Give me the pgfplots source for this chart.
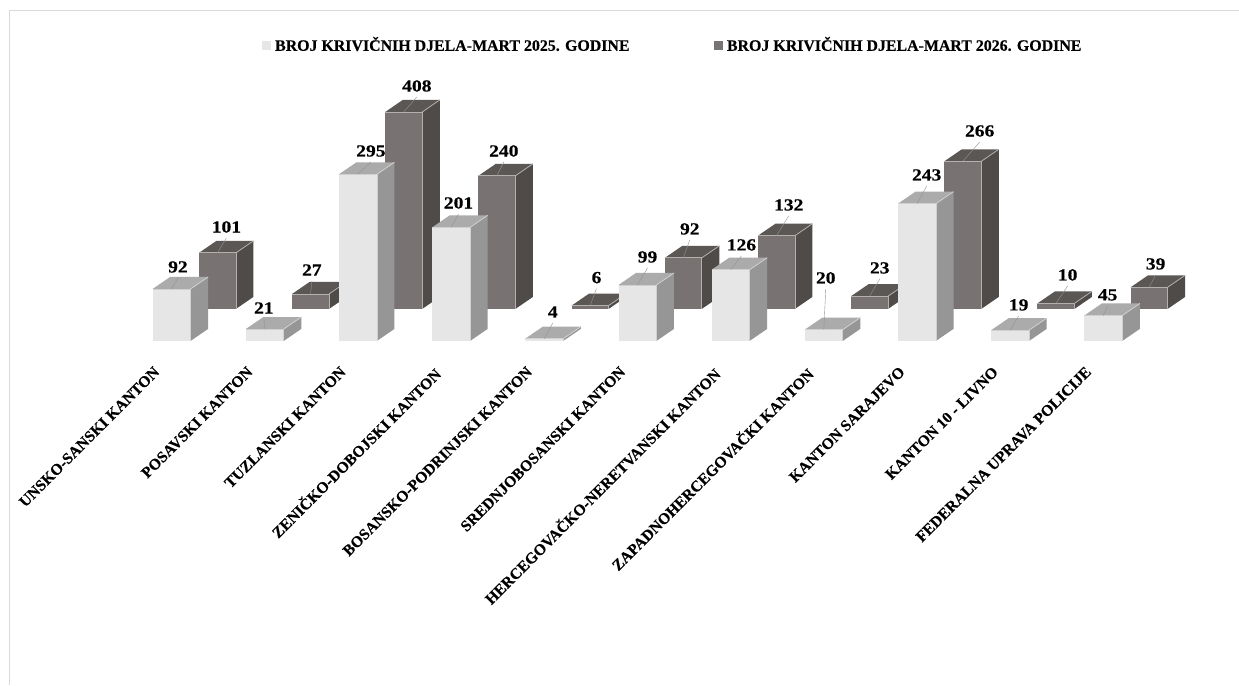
\documentclass[border=0pt]{standalone}
\usepackage{pgfplots}
\pgfplotsset{compat=1.18}
\usepackage{fontspec}
\setmainfont{Liberation Serif}
\newfontfamily\lab[FakeBold=0.35]{Liberation Serif}
\newfontfamily\num[FakeStretch=1.15,FakeBold=0.35]{Liberation Serif}
\definecolor{fF}{HTML}{E6E6E6}\definecolor{fS}{HTML}{969696}\definecolor{fT}{HTML}{ABABAB}\definecolor{fE}{HTML}{D0D0D0}
\definecolor{bF}{HTML}{787372}\definecolor{bS}{HTML}{4F4B49}\definecolor{bT}{HTML}{5B5755}\definecolor{bE}{HTML}{B4B0AE}
\newcommand\threedbar[9]{%
 % #1 left x, #2 value, #3 base, #4 scale, #5 width, #6-#8 face colours, #9 edge colour
 \pgfmathsetmacro\bTop{#3-#4*min(#2,355)}%
 \pgfmathsetmacro\bR{#1+#5}%
 \pgfmathsetmacro\bDX{\bR+17.5}%
 \pgfmathsetmacro\bBY{#3-12}%
 \pgfmathsetmacro\bTY{\bTop-12}%
 \pgfmathsetmacro\bLX{#1+17.5}%
 \edef\tmp{%
 \noexpand\addplot[fill=#7,draw=none,forget plot] coordinates {(\bR,#3)(\bDX,\bBY)(\bDX,\bTY)(\bR,\bTop)} --cycle;
 \noexpand\addplot[fill=#8,draw=none,forget plot] coordinates {(#1,\bTop)(\bR,\bTop)(\bDX,\bTY)(\bLX,\bTY)} --cycle;
 \noexpand\addplot[fill=#6,draw=none,forget plot] coordinates {(#1,#3)(\bR,#3)(\bR,\bTop)(#1,\bTop)} --cycle;
 \noexpand\addplot[draw=#9,line width=0.8pt,forget plot] coordinates {(#1,\bTop)(\bR,\bTop)(\bR,#3)};
 \noexpand\addplot[draw=#9,line width=0.8pt,forget plot] coordinates {(\bR,\bTop)(\bDX,\bTY)};
 }\tmp
}
\newcommand\fbar[2]{\threedbar{#1}{#2}{341}{0.565}{38}{fF}{fS}{fT}{fE}}
\newcommand\bbar[2]{\threedbar{#1}{#2}{309}{0.555}{37}{bF}{bS}{bT}{bE}}
\newcommand\vallabel[5]{% value, label x, label y, bar centre x, leader end y
 \pgfmathsetmacro\lC{#3+11}%
 \edef\tmp{\noexpand\addplot[draw=gray!85,line width=0.4pt,forget plot] coordinates {(#4,#5)(#2,\lC)};}\tmp
 \node[font=\num\bfseries\fontsize{17}{17}\selectfont,inner sep=0pt] at (axis cs:#2,#3) {#1};
}
\newcommand\fval[4]{% value, left x, label x, label y
 \pgfmathsetmacro\cX{#2+19}\pgfmathsetmacro\cY{341-0.565*min(#1,355)}%
 \vallabel{#1}{#3}{#4}{\cX}{\cY}}
\newcommand\bval[4]{%
 \pgfmathsetmacro\cX{#2+18.5}\pgfmathsetmacro\cY{309-0.555*min(#1,355)}%
 \vallabel{#1}{#3}{#4}{\cX}{\cY}}
\newcommand\catlabel[2]{\node[font=\lab\bfseries\fontsize{15.6}{15.6}\selectfont,rotate=45,anchor=north east,inner sep=0pt] at (axis cs:#1,365.5) {#2};}
\begin{document}
\begin{tikzpicture}
\begin{axis}[
  scale only axis,width=1239pt,height=686pt,
  xmin=0,xmax=1239,ymin=0,ymax=686,y dir=reverse,
  axis lines=none,clip=false]
% page background, keeps the full extent
\addplot[fill=white,draw=none,forget plot] coordinates {(0,0)(1239,0)(1239,686)(0,686)} --cycle;
% outer frame
\addplot[draw=gray!30,line width=0.8pt,forget plot] coordinates {(9.5,685)(9.5,10.5)(1239,10.5)};
% 2026 series (rear row)
\bbar{199}{101}\bbar{292.2}{27}\bbar{385.4}{408}\bbar{478.6}{240}\bbar{571.8}{6}\bbar{665}{92}
\bbar{758.2}{132}\bbar{851.4}{23}\bbar{944.6}{266}\bbar{1037.8}{10}\bbar{1131}{39}
% 2025 series (front row)
\fbar{152.7}{92}\fbar{245.9}{21}\fbar{339.1}{295}\fbar{432.3}{201}\fbar{525.5}{4}\fbar{618.7}{99}
\fbar{711.9}{126}\fbar{805.1}{20}\fbar{898.3}{243}\fbar{991.5}{19}\fbar{1084.7}{45}
% value labels
\bval{101}{199}{226.5}{227}\bval{27}{292.2}{312}{270}\bval{408}{385.4}{417}{86}\bval{240}{478.6}{504}{151}
\bval{6}{571.8}{596.7}{277.7}\bval{92}{665}{690}{229}\bval{132}{758.2}{789}{205}\bval{23}{851.4}{880}{268}
\bval{266}{944.6}{980}{131}\bval{10}{1037.8}{1068}{275}\bval{39}{1131}{1156}{264}
\fval{92}{152.7}{178}{267}\fval{21}{245.9}{264}{308}\fval{295}{339.1}{371}{151}\fval{201}{432.3}{458.7}{203}
\fval{4}{525.5}{553}{312}\fval{99}{618.7}{647.7}{257}\fval{126}{711.9}{741.7}{245}\fval{20}{805.1}{826}{278}
\fval{243}{898.3}{927}{175}\fval{19}{991.5}{1019}{305}\fval{45}{1084.7}{1108}{295}
% category labels
\catlabel{153}{UNSKO-SANSKI KANTON}
\catlabel{246.2}{POSAVSKI KANTON}
\catlabel{339.4}{TUZLANSKI KANTON}
\catlabel{432.6}{ZENIČKO-DOBOJSKI KANTON}
\catlabel{525.8}{BOSANSKO-PODRINJSKI KANTON}
\catlabel{619}{SREDNJOBOSANSKI KANTON}
\catlabel{712.2}{HERCEGOVAČKO-NERETVANSKI KANTON}
\catlabel{805.4}{ZAPADNOHERCEGOVAČKI KANTON}
\catlabel{898.6}{KANTON SARAJEVO}
\catlabel{991.8}{KANTON 10 - LIVNO}
\catlabel{1085}{FEDERALNA UPRAVA POLICIJE}
% legend
\addplot[only marks,mark=square*,mark size=4pt,mark options={fill=fF,draw=fF},forget plot] coordinates {(266,45)};
\addplot[only marks,mark=square*,mark size=4pt,mark options={fill=bF,draw=bF},forget plot] coordinates {(718,45)};
\node[font=\lab\bfseries\fontsize{15.9}{15.9}\selectfont,anchor=west,inner sep=0pt] at (axis cs:275,44) {BROJ KRIVIČNIH DJELA-MART 2025. GODINE};
\node[font=\lab\bfseries\fontsize{15.9}{15.9}\selectfont,anchor=west,inner sep=0pt] at (axis cs:727,44) {BROJ KRIVIČNIH DJELA-MART 2026. GODINE};
\end{axis}
\end{tikzpicture}
\end{document}
